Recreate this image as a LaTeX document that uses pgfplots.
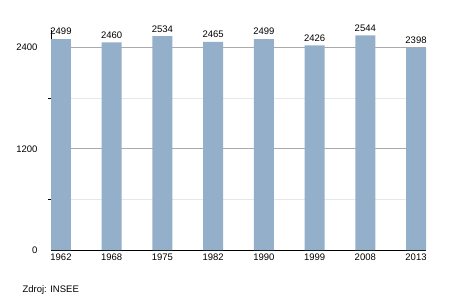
\documentclass[border=0pt]{standalone}
\usepackage{pgfplots}
\pgfplotsset{compat=1.18}
\usepackage{fontspec}
\setmainfont{Liberation Sans}
\definecolor{barc}{HTML}{94AFCA}
\definecolor{majg}{HTML}{AAAAAA}
\definecolor{ming}{HTML}{E3E8EE}
\begin{document}
\begin{tikzpicture}
\path[use as bounding box] (0,0) rectangle (455pt,300pt);
\begin{axis}[
  at={(51pt,50pt)}, anchor=south west,
  scale only axis, width=375pt, height=220pt,
  xmin=-0.197, xmax=7.197, ymin=0, ymax=2607,
  axis lines*=left, axis line style={black, line width=0.9pt, -},
  xtick={0,...,7},
  xticklabels={1962,1968,1975,1982,1990,1999,2008,2013},
  ytick={0,1200,2400}, minor ytick={600,1800},
  major tick length=0pt, minor tick length=3pt,
  tick align=outside, tick style={black, line width=0.6pt},
  ymajorgrids, yminorgrids,
  major grid style={majg, line width=0.6pt},
  minor grid style={ming, line width=0.6pt},
  ticklabel style={font=\fontsize{9.5}{10}\selectfont},
  /pgf/number format/assume math mode=true,
  /pgf/number format/1000 sep={},
  yticklabel style={xshift=-10pt},
  scaled y ticks=false,
  ybar, bar width=20pt,
  nodes near coords,
  every node near coord/.append style={font=\fontsize{9.5}{10}\selectfont, black, yshift=0.5pt},
]
\addplot[fill=barc, draw=none, bar shift=0pt] coordinates {
(0,2499) (1,2460) (2,2534) (3,2465) (4,2499) (5,2426) (6,2544) (7,2398)};
\end{axis}
\node[anchor=base west, font=\fontsize{9.5}{10}\selectfont] at (19pt,8pt) {Zdroj: INSEE};
\end{tikzpicture}
\end{document}
